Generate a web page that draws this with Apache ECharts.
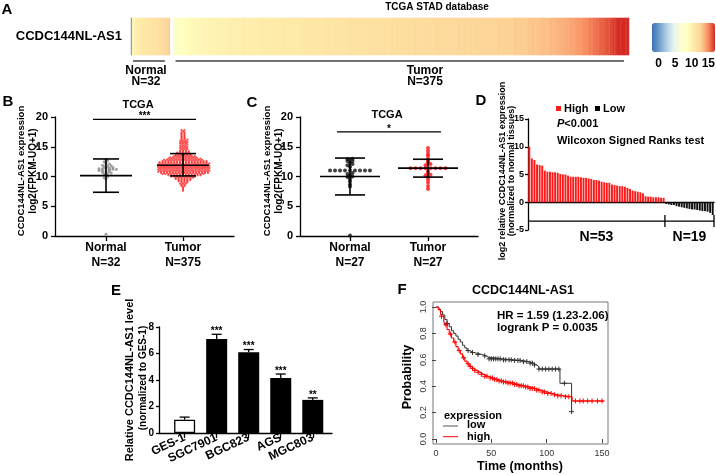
<!DOCTYPE html>
<html><head><meta charset="utf-8">
<script src="https://cdn.jsdelivr.net/npm/echarts@6.0.0/dist/echarts.min.js"></script>
<style>html,body{margin:0;padding:0;background:#fff}#c{width:716px;height:475px}</style>
</head><body><div id="c"></div><script>
const FONT = 'Arial, "Liberation Sans", Helvetica, sans-serif';

// ---------- A / B : TCGA STAD (32 normal, 375 tumor) ----------
const bCats = ['Normal\nN=32', 'Tumor\nN=375'];
const bNormal = [0.3, 9.6, 9.8, 10.0, 10.2, 10.4, 10.5, 10.6, 10.7, 10.8, 10.9, 11.0, 11.0, 11.1, 11.1, 11.2,
  11.2, 11.3, 11.3, 11.4, 11.4, 11.5, 11.6, 11.7, 11.8, 11.9, 12.0, 12.1, 12.3, 12.5, 12.7, 12.9];
const tumorLevels = [7.6, 7.8, 8.0, 8.2, 8.4, 8.6, 8.8, 9.0, 9.2, 9.4, 9.6, 9.8, 10.0, 10.2, 10.4, 10.6, 10.8,
  11.0, 11.2, 11.4, 11.6, 11.8, 12.0, 12.2, 12.4, 12.6, 12.8, 13.0, 13.2, 13.4, 13.6, 13.8, 14.0, 14.2, 14.4,
  14.6, 14.8, 15.0, 15.2, 15.4, 15.6, 15.8, 16.0, 16.2, 16.4, 16.6, 16.8, 17.0, 17.2, 17.4, 17.6, 17.8];
const tumorCounts = [1, 1, 1, 1, 2, 2, 3, 3, 4, 5, 6, 7, 9, 12, 15, 17, 18, 18, 18, 18, 18, 18, 18, 18, 17, 16,
  14, 12, 10, 8, 6, 5, 5, 4, 3, 3, 3, 3, 3, 3, 3, 3, 3, 3, 2, 2, 2, 2, 2, 2, 1, 2];
const bMean = [10.15, 11.9];
const bLow = [7.35, 10.1];
const bHigh = [12.95, 13.85];
const bSig = '***';
const colorTicks = [0, 5, 10, 15];

// ---------- C : paired TCGA (27 + 27) ----------
const cCats = ['Normal\nN=27', 'Tumor\nN=27'];
const cNormal = [0.1, 8.3, 8.7, 9.2, 9.6, 9.9, 10.0, 10.2, 10.4, 10.6, 11.0, 11.0, 11.0, 11.0, 11.0, 11.0, 11.0,
  11.0, 11.0, 11.6, 11.9, 12.1, 12.3, 12.6, 12.6, 12.9, 13.0];
const cTumor = [7.9, 8.4, 9.0, 9.5, 9.9, 10.2, 10.3, 10.6, 10.9, 11.4, 11.4, 11.4, 11.4, 11.4, 11.4, 11.4, 11.4,
  11.9, 12.1, 12.2, 12.5, 12.7, 13.0, 13.5, 13.8, 14.3, 14.8];
const cMean = [10.0, 11.4];
const cLow = [6.9, 9.9];
const cHigh = [13.1, 12.9];
const cSig = '*';

// ---------- D : waterfall ----------
const dHigh = [10.0, 7.9, 7.6, 6.8, 6.7, 6.6, 5.7, 5.5, 5.5, 5.4, 5.4, 5.3, 5.1, 5.0, 5.0, 4.8, 4.6, 4.6, 4.6,
  4.6, 4.5, 4.4, 4.4, 4.3, 4.2, 4.0, 4.0, 3.9, 3.7, 3.6, 3.5, 3.5, 3.2, 3.1, 3.0, 2.9, 2.9, 2.8, 2.6, 2.4, 2.1,
  2.0, 1.9, 1.8, 1.6, 1.1, 1.0, 1.0, 0.9, 0.9, 0.9, 0.8, 0.8];
const dLow = [-0.3, -0.4, -0.5, -0.5, -0.7, -0.8, -0.9, -1.0, -1.1, -1.2, -1.3, -1.3, -1.4, -1.5, -1.6, -1.6,
  -1.7, -1.9, -2.3];

// ---------- E : cell lines ----------
const eCats = ['GES-1', 'SGC7901', 'BGC823', 'AGS', 'MGC803'];
const eMean = [1.0, 7.1, 6.1, 4.15, 2.5];
const eErr = [0.2, 0.35, 0.2, 0.3, 0.15];
const eStars = ['', '***', '***', '***', '**'];

// ---------- F : Kaplan-Meier ----------
const lowT = [0, 2, 4, 6, 8, 10, 12, 14, 16, 18, 20, 22, 24, 26, 28, 30, 34, 38, 42, 45, 47, 60, 70, 78, 84, 88, 91, 93, 112, 122.5];
const lowS = [1.0, 0.985, 0.965, 0.94, 0.905, 0.875, 0.85, 0.82, 0.8, 0.78, 0.755, 0.735, 0.71, 0.69, 0.67, 0.655,
  0.648, 0.64, 0.63, 0.62, 0.607, 0.6, 0.595, 0.586, 0.575, 0.561, 0.548, 0.53, 0.422, 0.207];
const highT = [0, 2, 4, 5, 7, 8, 10, 12, 14, 16, 18, 20, 22, 24, 26, 28, 30, 32, 34, 37, 40, 43, 47, 52, 56, 60,
  65, 70, 75, 80, 85, 90, 95, 100, 105, 110, 116, 123, 152];
const highS = [1.0, 0.98, 0.955, 0.93, 0.89, 0.865, 0.83, 0.795, 0.765, 0.735, 0.7, 0.67, 0.645, 0.615, 0.59, 0.57,
  0.55, 0.535, 0.52, 0.505, 0.49, 0.475, 0.462, 0.45, 0.44, 0.432, 0.424, 0.413, 0.403, 0.394, 0.382, 0.37, 0.356,
  0.345, 0.335, 0.327, 0.32, 0.288, 0.288];
const lowCensor = [10, 29, 33, 38, 44, 48, 50, 52, 54, 56, 58, 61, 63, 66, 68, 71, 74, 76, 79, 82, 85, 87, 89, 93,
  96, 99, 102, 105, 108, 111, 116, 122.5];
const highCensor = [5, 9, 13, 17, 21, 25, 29, 31, 33, 35, 38, 41, 44, 46, 49, 51, 53, 55, 57, 59, 61, 63, 65, 67,
  69, 71, 73, 75, 77, 79, 81, 83, 85, 87, 89, 91, 93, 96, 98, 101, 104, 107, 110, 113, 117, 120, 126, 130, 133,
  137, 141, 146, 150];
const fTimeTicks = [0, 50, 100, 150];
const fProbTicks = [0, 0.2, 0.4, 0.6, 0.8, 1.0];

// ================= derived =================
const tumorSorted = [];
tumorLevels.forEach((v, i) => { for (let k = 0; k < tumorCounts[i]; k++) tumorSorted.push(v); });
const normalSorted = bNormal.slice().sort((a, b) => a - b);
const GAP = 3;
const heatCats = [], heatData = [];
normalSorted.forEach((v, i) => heatData.push([i, 0, v]));
tumorSorted.forEach((v, i) => heatData.push([normalSorted.length + GAP + i, 0, v]));
for (let i = 0; i < normalSorted.length + GAP + tumorSorted.length; i++) heatCats.push(String(i));
const aGroups = [[0, normalSorted.length - 1, 0], [normalSorted.length + GAP, normalSorted.length + GAP + tumorSorted.length - 1, 0]];

// beeswarm layout (positions only); odd rows shifted by half a step
function swarm(values, center, bin, step) {
  const groups = new Map();
  values.forEach(v => { const k = Math.round(v / bin); if (!groups.has(k)) groups.set(k, []); groups.get(k).push(v); });
  const pts = [];
  groups.forEach((arr, k) => {
    const n = arr.length;
    const shift = (n > 2 && k % 2) ? step / 2 : 0;
    arr.forEach((v, i) => pts.push([center + (i - (n - 1) / 2) * step + shift, v]));
  });
  return pts;
}
function survAt(ts, ss, t) { let s = ss[0]; for (let i = 0; i < ts.length; i++) { if (ts[i] <= t) s = ss[i]; else break; } return s; }

const blackLine = { show: true, onZero: false, lineStyle: { color: '#000', width: 1.3 } };
const tickOut = (len, extra) => Object.assign({ show: true, inside: false, length: len, lineStyle: { color: '#000', width: 1.3 } }, extra || {});
const lbl = (size, margin, extra) => Object.assign({ show: true, color: '#000', fontWeight: 'bold', fontSize: size, margin: margin, fontFamily: FONT }, extra || {});
const noSplit = { show: false };

function statsSeries(ax, means, lows, highs, meanHalf, capHalf) {
  return {
    type: 'custom', xAxisIndex: ax, yAxisIndex: ax, z: 5, silent: true,
    data: means.map((m, i) => [i, m, lows[i], highs[i]]), encode: { x: 0, y: 1 },
    renderItem: function (params, api) {
      const x = api.value(0);
      const pm = api.coord([x, api.value(1)]), pl = api.coord([x, api.value(2)]), ph = api.coord([x, api.value(3)]);
      const st = { stroke: '#000', lineWidth: 1.6 };
      const L = (x1, y1, x2, y2) => ({ type: 'line', shape: { x1, y1, x2, y2 }, style: st });
      return { type: 'group', children: [
        L(pm[0] - meanHalf, pm[1], pm[0] + meanHalf, pm[1]),
        L(pl[0], pl[1], ph[0], ph[1]),
        L(pl[0] - capHalf, pl[1], pl[0] + capHalf, pl[1]),
        L(ph[0] - capHalf, ph[1], ph[0] + capHalf, ph[1])
      ] };
    }
  };
}
function sigSeries(ax, yVal, stars, overhang) {
  return {
    type: 'custom', xAxisIndex: ax, yAxisIndex: ax, z: 5, silent: true,
    data: [[0, 1, yVal]], encode: { x: [0, 1], y: 2 },
    renderItem: function (params, api) {
      const a = api.coord([api.value(0), api.value(2)]), b = api.coord([api.value(1), api.value(2)]);
      return { type: 'group', children: [
        { type: 'line', shape: { x1: a[0] - overhang, y1: a[1], x2: b[0] + overhang, y2: b[1] }, style: { stroke: '#000', lineWidth: 1.3 } },
        { type: 'text', x: (a[0] + b[0]) / 2, y: a[1] - 3, style: { text: stars, align: 'center', verticalAlign: 'middle', font: 'bold 10px ' + FONT, fill: '#000' } }
      ] };
    }
  };
}
function censorSeries(times, ts, ss, color) {
  return {
    type: 'custom', xAxisIndex: 6, yAxisIndex: 6, z: 4, silent: true,
    data: times.map(t => [t, survAt(ts, ss, t)]), encode: { x: 0, y: 1 },
    renderItem: function (params, api) {
      const p = api.coord([api.value(0), api.value(1)]); const h = 2.5;
      const st = { stroke: color, lineWidth: 1 };
      return { type: 'group', children: [
        { type: 'line', shape: { x1: p[0] - h, y1: p[1], x2: p[0] + h, y2: p[1] }, style: st },
        { type: 'line', shape: { x1: p[0], y1: p[1] - h, x2: p[0], y2: p[1] + h }, style: st }
      ] };
    }
  };
}
function txt(x, y, text, size, o) {
  o = o || {};
  const el = { type: 'text', x: x, y: y, silent: true, style: { text: text, fill: o.fill || '#000',
    font: (o.weight || 'bold') + ' ' + size + 'px ' + FONT, align: o.align || 'center', verticalAlign: 'middle' } };
  if (o.rot) el.rotation = o.rot;
  return el;
}
const R90 = Math.PI / 2;

const dAll = dHigh.concat(dLow);
const dCats = dAll.map((v, i) => String(i + 1));
const dBracketY = -3.4;

const option = {
  animation: false,
  textStyle: { fontFamily: FONT },
  grid: [
    { left: 131, top: 18, width: 498, height: 37, outerBoundsMode: 'none' },
    { left: 652, top: 52, width: 63, height: 1, outerBoundsMode: 'none' },
    { left: 55, top: 117, width: 179, height: 119, outerBoundsMode: 'none' },
    { left: 300, top: 117, width: 178, height: 119, outerBoundsMode: 'none' },
    { left: 528, top: 119, width: 186, height: 111, outerBoundsMode: 'none' },
    { left: 159, top: 327, width: 173, height: 106, outerBoundsMode: 'none' },
    { left: 433, top: 302, width: 175, height: 142, show: true, borderColor: '#777', borderWidth: 1, outerBoundsMode: 'none' }
  ],
  xAxis: [
    { gridIndex: 0, type: 'category', data: heatCats, show: false, boundaryGap: true },
    { gridIndex: 1, type: 'value', min: -2, max: 17, axisLine: { show: false }, axisTick: { show: false }, splitLine: noSplit,
      axisLabel: lbl(12, 5, { customValues: colorTicks }) },
    { gridIndex: 2, type: 'value', min: -0.662, max: 1.662, axisLine: blackLine, splitLine: noSplit,
      axisTick: tickOut(5, { customValues: [0, 1] }),
      axisLabel: lbl(12, 4, { customValues: [0, 1], lineHeight: 15, formatter: v => bCats[Math.round(v)] }) },
    { gridIndex: 3, type: 'value', min: -0.641, max: 1.641, axisLine: blackLine, splitLine: noSplit,
      axisTick: tickOut(5, { customValues: [0, 1] }),
      axisLabel: lbl(12, 4, { customValues: [0, 1], lineHeight: 15, formatter: v => cCats[Math.round(v)] }) },
    { gridIndex: 4, type: 'category', data: dCats, boundaryGap: true,
      axisLine: { show: true, onZero: true, lineStyle: { color: '#000', width: 1.3 } }, axisTick: { show: false }, axisLabel: { show: false } },
    { gridIndex: 5, type: 'value', min: -0.8, max: 4.6, axisLine: blackLine, splitLine: noSplit,
      axisTick: tickOut(5, { customValues: [0, 1, 2, 3, 4] }),
      axisLabel: lbl(12, 4, { customValues: [0, 1, 2, 3, 4], rotate: 25, formatter: v => eCats[Math.round(v)] }) },
    { gridIndex: 6, type: 'value', min: -2.7, max: 155.4, axisLine: { show: false }, splitLine: noSplit,
      axisTick: { show: true, customValues: fTimeTicks, length: 4, lineStyle: { color: '#444', width: 1 } },
      axisLabel: { customValues: fTimeTicks, fontSize: 9, color: '#333', margin: 5 } }
  ],
  yAxis: [
    { gridIndex: 0, type: 'category', data: ['CCDC144NL-AS1'], axisLine: { show: false }, axisTick: { show: false },
      axisLabel: lbl(13, 9) },
    { gridIndex: 1, type: 'value', show: false },
    { gridIndex: 2, type: 'value', min: 0, max: 20, interval: 5, axisLine: blackLine, axisTick: tickOut(4), axisLabel: lbl(11, 7), splitLine: noSplit },
    { gridIndex: 3, type: 'value', min: 0, max: 20, interval: 5, axisLine: blackLine, axisTick: tickOut(4), axisLabel: lbl(11, 7), splitLine: noSplit },
    { gridIndex: 4, type: 'value', min: -5, max: 15, interval: 5, axisLine: blackLine, axisTick: tickOut(3), axisLabel: lbl(9, 4), splitLine: noSplit },
    { gridIndex: 5, type: 'value', min: 0, max: 8, interval: 2, axisLine: blackLine, axisTick: tickOut(3), axisLabel: lbl(10, 5), splitLine: noSplit },
    { gridIndex: 6, type: 'value', min: -0.038, max: 1.038, axisLine: { show: false }, splitLine: noSplit,
      axisTick: { show: true, customValues: fProbTicks, length: 4, lineStyle: { color: '#444', width: 1 } },
      axisLabel: { customValues: fProbTicks, rotate: 90, fontSize: 9, color: '#333', margin: 5, formatter: v => Number(v).toFixed(1) } }
  ],
  visualMap: [{
    type: 'continuous', seriesIndex: 0, min: -2, max: 17, orient: 'horizontal', left: 652, top: 23,
    itemWidth: 29, itemHeight: 63, padding: 0, calculable: false, hoverLink: false,
    inRange: { color: ['#3b6fb6', '#6e9ccc', '#aacde4', '#e4f1f0', '#fbfcd6', '#ffffc0', '#feeaa8', '#fdd396', '#f88f60', '#d52a24'] }
  }],
  series: [
    { type: 'heatmap', xAxisIndex: 0, yAxisIndex: 0, data: heatData, itemStyle: { borderWidth: 0 }, emphasis: { disabled: true }, progressive: 0 },
    { type: 'scatter', xAxisIndex: 1, yAxisIndex: 1, data: [] },
    { type: 'custom', xAxisIndex: 0, yAxisIndex: 0, silent: true, data: aGroups, encode: { x: [0, 1], y: 2 },
      renderItem: function (params, api) {
        const bw = api.size([1, 0])[0], bh = api.size([0, 1])[1];
        const a = api.coord([api.value(0), 0]), b = api.coord([api.value(1), 0]);
        const y = a[1] + bh / 2 + 6;
        return { type: 'line', shape: { x1: a[0] - bw / 2 + 2, y1: y, x2: b[0] + bw / 2 - 5, y2: y }, style: { stroke: '#444', lineWidth: 1.5 } };
      } },
    { type: 'scatter', xAxisIndex: 2, yAxisIndex: 2, data: swarm(bNormal, 0, 0.3, 0.045), symbolSize: 3, itemStyle: { color: '#8a8a8a' }, silent: true },
    { type: 'scatter', xAxisIndex: 2, yAxisIndex: 2, data: swarm(tumorSorted, 1, 0.2, 0.038), symbolSize: 2.3, itemStyle: { color: '#ff2a2a' }, silent: true },
    statsSeries(2, bMean, bLow, bHigh, 26, 13),
    sigSeries(2, 19.6, bSig, 13),
    { type: 'scatter', xAxisIndex: 3, yAxisIndex: 3, data: swarm(cNormal, 0, 0.25, 0.064), symbolSize: 4, itemStyle: { color: '#111' }, silent: true },
    { type: 'scatter', xAxisIndex: 3, yAxisIndex: 3, data: swarm(cTumor, 1, 0.25, 0.064), symbolSize: 4, itemStyle: { color: '#ff1010' }, silent: true },
    statsSeries(3, cMean, cLow, cHigh, 30, 15),
    sigSeries(3, 17.5, cSig, 13),
    { type: 'bar', xAxisIndex: 4, yAxisIndex: 4, barCategoryGap: '25%', silent: true,
      data: dAll.map(v => ({ value: v, itemStyle: { color: v >= 0 ? '#ff1a1a' : '#111' } })) },
    { type: 'custom', xAxisIndex: 4, yAxisIndex: 4, silent: true, data: [[0, 0]],
      renderItem: function (params, api) {
        const bw = api.size([1, 0])[0];
        const y = api.coord([0, dBracketY])[1];
        const x0 = api.coord([0, 0])[0] - bw / 2;
        const xb = api.coord([dHigh.length, 0])[0] - bw / 2;
        const x1 = api.coord([dAll.length - 1, 0])[0] + bw / 2;
        const st = { stroke: '#000', lineWidth: 1.3 };
        return { type: 'group', children: [
          { type: 'line', shape: { x1: x0, y1: y, x2: x1, y2: y }, style: st },
          { type: 'line', shape: { x1: xb, y1: y - 6, x2: xb, y2: y + 6 }, style: st },
          { type: 'line', shape: { x1: x1, y1: y - 6, x2: x1, y2: y + 6 }, style: st },
          { type: 'text', x: (x0 + xb) / 2, y: y + 16, style: { text: 'N=' + dHigh.length, align: 'center', verticalAlign: 'middle', font: 'bold 14px ' + FONT, fill: '#000' } },
          { type: 'text', x: (xb + x1) / 2, y: y + 16, style: { text: 'N=' + dLow.length, align: 'center', verticalAlign: 'middle', font: 'bold 14px ' + FONT, fill: '#000' } }
        ] };
      } },
    { type: 'bar', xAxisIndex: 5, yAxisIndex: 5, barWidth: 21, silent: true,
      data: eMean.map((v, i) => ({ value: [i, v], itemStyle: i === 0 ? { color: '#fff', borderColor: '#000', borderWidth: 1.3 } : { color: '#000' } })) },
    { type: 'custom', xAxisIndex: 5, yAxisIndex: 5, silent: true, z: 5,
      data: eMean.map((m, i) => [i, m, m + eErr[i]]), encode: { x: 0, y: [1, 2] },
      renderItem: function (params, api) {
        const i = api.value(0);
        const p0 = api.coord([i, api.value(1)]), p1 = api.coord([i, api.value(2)]);
        const st = { stroke: '#000', lineWidth: 1.3 };
        return { type: 'group', children: [
          { type: 'line', shape: { x1: p0[0], y1: p0[1], x2: p1[0], y2: p1[1] }, style: st },
          { type: 'line', shape: { x1: p1[0] - 5, y1: p1[1], x2: p1[0] + 5, y2: p1[1] }, style: st },
          { type: 'text', x: p1[0], y: p1[1] - 3, style: { text: eStars[params.dataIndex], align: 'center', verticalAlign: 'middle', font: 'bold 10px ' + FONT, fill: '#000' } }
        ] };
      } },
    { type: 'line', xAxisIndex: 6, yAxisIndex: 6, step: 'end', showSymbol: false, silent: true,
      data: lowT.map((t, i) => [t, lowS[i]]), lineStyle: { color: '#333', width: 1 } },
    { type: 'line', xAxisIndex: 6, yAxisIndex: 6, step: 'end', showSymbol: false, silent: true,
      data: highT.map((t, i) => [t, highS[i]]), lineStyle: { color: '#ff0000', width: 1.1 } },
    censorSeries(lowCensor, lowT, lowS, '#333'),
    censorSeries(highCensor, highT, highS, '#ff0000')
  ],
  graphic: { elements: [
    txt(7, 10, 'A', 15),
    txt(437, 7, 'TCGA STAD database', 10),
    txt(146, 71, 'Normal', 12), txt(146, 82, 'N=32', 12),
    txt(425, 71, 'Tumor', 12), txt(425, 82, 'N=375', 12),
    txt(8, 102, 'B', 15),
    txt(138, 105, 'TCGA', 11),
    txt(21, 171, 'CCDC144NL-AS1 expression', 9.5, { rot: R90 }),
    txt(33, 171, 'log2(FPKM-UQ+1)', 10, { rot: R90 }),
    txt(252, 103, 'C', 15),
    txt(387, 115, 'TCGA', 11),
    txt(267, 171, 'CCDC144NL-AS1 expression', 9.5, { rot: R90 }),
    txt(279.5, 171, 'log2(FPKM-UQ+1)', 10, { rot: R90 }),
    txt(481, 101, 'D', 15),
    txt(503, 171, 'log2 relative CCDC144NL-AS1 expression', 9, { rot: R90 }),
    txt(512, 171, '(normalized to normal tissues)', 9, { rot: R90 }),
    { type: 'rect', shape: { x: 556, y: 106, width: 5, height: 5 }, style: { fill: '#ff1a1a' }, silent: true },
    txt(564, 109, 'High', 11, { align: 'left' }),
    { type: 'rect', shape: { x: 595, y: 106, width: 5, height: 5 }, style: { fill: '#000' }, silent: true },
    txt(603, 109, 'Low', 11, { align: 'left' }),
    { type: 'text', x: 557, y: 124, silent: true, style: { text: '{i|P}{n|<0.001}', align: 'left', verticalAlign: 'middle',
      rich: { i: { fontStyle: 'italic', fontWeight: 'bold', fontSize: 11, fontFamily: FONT, fill: '#000' }, n: { fontWeight: 'bold', fontSize: 11, fontFamily: FONT, fill: '#000' } } } },
    txt(557, 141, 'Wilcoxon Signed Ranks test', 11, { align: 'left' }),
    txt(116, 291, 'E', 15),
    txt(130, 380, 'Relative CCDC144NL-AS1 level', 11, { rot: R90 }),
    txt(143, 378, '(normalized to GES-1)', 10, { rot: R90 }),
    txt(402, 290, 'F', 15),
    txt(523, 291, 'CCDC144NL-AS1', 12.5),
    txt(408, 377, 'Probability', 12.5, { rot: R90 }),
    txt(497, 316, 'HR = 1.59 (1.23-2.06)', 11.5, { align: 'left' }),
    txt(497, 327.5, 'logrank P = 0.0035', 11.5, { align: 'left' }),
    txt(520, 467, 'Time (months)', 12.5),
    txt(444, 415.5, 'expression', 11, { align: 'left' }),
    { type: 'line', shape: { x1: 443, y1: 426, x2: 458, y2: 426 }, style: { stroke: '#555', lineWidth: 1 }, silent: true },
    txt(467, 425, 'low', 11, { align: 'left' }),
    { type: 'line', shape: { x1: 443, y1: 436.7, x2: 458, y2: 436.7 }, style: { stroke: '#ff0000', lineWidth: 1 }, silent: true },
    txt(467, 436.5, 'high', 11, { align: 'left' })
  ] }
};
const chart = echarts.init(document.getElementById('c'));
chart.setOption(option);
</script></body></html>
